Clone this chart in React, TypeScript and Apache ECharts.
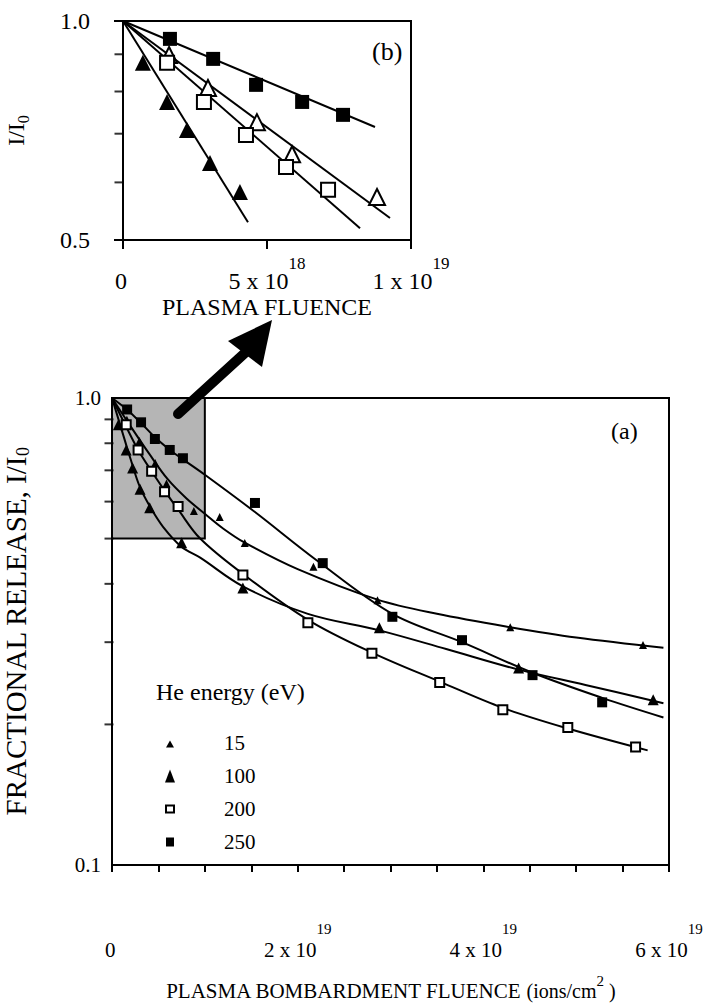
import React, { useEffect, useRef } from "react";
import * as echarts from "echarts";

// ---------- data (fluence in ions/cm^2, release = I/I0) ----------
const fluence15 = [1.6e18, 2.95e18, 4.65e18, 5.87e18, 8.82e18, 1.16e19, 1.43e19, 2.17e19, 2.86e19, 4.29e19, 5.72e19];
const release15 = [0.898, 0.809, 0.726, 0.656, 0.573, 0.556, 0.489, 0.435, 0.369, 0.323, 0.296];

const fluence100 = [0.69e18, 1.53e18, 2.22e18, 3.02e18, 4.06e18, 7.5e18, 1.41e19, 2.88e19, 4.38e19, 5.83e19];
const release100 = [0.876, 0.774, 0.708, 0.638, 0.582, 0.49, 0.392, 0.322, 0.264, 0.226];

const fluence200 = [1.53e18, 2.81e18, 4.27e18, 5.66e18, 7.12e18, 1.41e19, 2.11e19, 2.8e19, 3.53e19, 4.21e19, 4.91e19, 5.64e19];
const release200 = [0.876, 0.774, 0.697, 0.63, 0.586, 0.418, 0.33, 0.284, 0.246, 0.215, 0.197, 0.179];

const fluence250 = [1.63e18, 3.13e18, 4.62e18, 6.22e18, 7.64e18, 1.54e19, 2.27e19, 3.02e19, 3.77e19, 4.53e19, 5.28e19];
const release250 = [0.945, 0.887, 0.817, 0.774, 0.743, 0.596, 0.443, 0.34, 0.303, 0.255, 0.223];

// fitted curves of panel (a)
const fitFluence15 = [0, 0.2e19, 0.4e19, 0.6e19, 0.8e19, 1.0e19, 1.2e19, 1.43e19, 2.0e19, 2.86e19, 3.5e19, 4.29e19, 5.0e19, 5.94e19];
const fitRelease15 = [1, 0.87, 0.76, 0.67, 0.61, 0.565, 0.525, 0.49, 0.43, 0.37, 0.345, 0.323, 0.307, 0.292];

const fitFluence100 = [0, 0.1e19, 0.2e19, 0.3e19, 0.41e19, 0.55e19, 0.75e19, 0.95e19, 1.41e19, 2.11e19, 2.88e19, 3.6e19, 4.38e19, 5.1e19, 5.94e19];
const fitRelease100 = [1, 0.86, 0.74, 0.645, 0.585, 0.53, 0.48, 0.455, 0.395, 0.345, 0.318, 0.29, 0.262, 0.243, 0.222];

const fitFluence200 = [0, 0.15e19, 0.28e19, 0.43e19, 0.57e19, 0.71e19, 0.95e19, 1.41e19, 2.11e19, 2.8e19, 3.53e19, 4.21e19, 4.91e19, 5.77e19];
const fitRelease200 = [1, 0.87, 0.775, 0.695, 0.632, 0.578, 0.5, 0.42, 0.335, 0.285, 0.247, 0.217, 0.196, 0.176];

const fitFluence250 = [0, 0.16e19, 0.31e19, 0.46e19, 0.62e19, 0.76e19, 1.0e19, 1.54e19, 2.2e19, 3.02e19, 3.77e19, 4.53e19, 5.28e19, 5.94e19];
const fitRelease250 = [1, 0.945, 0.885, 0.825, 0.775, 0.74, 0.685, 0.57, 0.45, 0.345, 0.3, 0.258, 0.228, 0.207];

// straight fits of panel (b)
const insetFitFluence15 = [0, 9.27e18];
const insetFitRelease15 = [1, 0.536];
const insetFitFluence100 = [0, 4.34e18];
const insetFitRelease100 = [1, 0.529];
const insetFitFluence200 = [0, 8.23e18];
const insetFitRelease200 = [1, 0.519];
const insetFitFluence250 = [0, 8.75e18];
const insetFitRelease250 = [1, 0.715];

// axes
const mainFluenceMax = 6e19;
const fluenceTickStep = 5e18;
const mainReleaseMin = 0.1;
const mainReleaseMax = 1.0;
const mainMinorTicks = [0.2, 0.3, 0.4, 0.5, 0.6, 0.7, 0.8, 0.9];
const insetFluenceMax = 1e19;
const insetReleaseMin = 0.5;
const insetReleaseMax = 1.0;
const insetMinorTicks = [0.6, 0.7, 0.8, 0.9];

const SERIF = '"Liberation Serif", "Times New Roman", Times, serif';

const zip = (xs: number[], ys: number[]) => xs.map((x, i) => [x, ys[i]]);
const inInset = (p: number[]) => p[0] <= insetFluenceMax && p[1] >= insetReleaseMin;

export default function App() {
  const ref = useRef<HTMLDivElement>(null);

  useEffect(() => {
    document.body.style.margin = "0";
    const chart = echarts.init(ref.current!, null, { renderer: "svg" });

    const fitLine = (name: string, xs: number[], ys: number[], idx: number, smooth: number | boolean, extra: any = {}) => ({
      name,
      type: "line",
      xAxisIndex: idx,
      yAxisIndex: idx,
      data: zip(xs, ys),
      smooth,
      showSymbol: false,
      silent: true,
      clip: false,
      lineStyle: { color: "#000", width: 2 },
      z: 3,
      ...extra,
    });

    const scatter = (name: string, pts: number[][], idx: number, symbol: string, size: number, open: boolean) => ({
      name,
      type: "scatter",
      xAxisIndex: idx,
      yAxisIndex: idx,
      data: pts,
      symbol,
      symbolSize: size,
      clip: false,
      silent: true,
      itemStyle: open
        ? { color: "#fff", borderColor: "#000", borderWidth: 2, opacity: 1 }
        : { color: "#000", borderColor: "#000", borderWidth: 0, opacity: 1 },
      z: 5,
    });

    const pts15 = zip(fluence15, release15);
    const pts100 = zip(fluence100, release100);
    const pts200 = zip(fluence200, release200);
    const pts250 = zip(fluence250, release250);

    const mainXLabel = (v: number) => {
      const k = Math.round(v / 1e18);
      if (k % 20 !== 0) return "";
      if (k === 0) return "{b|0}{s| }";
      return `{b|${k / 10} x 10}{s|19}`;
    };
    const insetXLabel = (v: number) => {
      const k = Math.round(v / 1e18);
      if (k === 0) return "{b|0}{s| }";
      if (k === 5) return "{b|5 x 10}{s|18}";
      if (k === 10) return "{b|1 x 10}{s|19}";
      return "";
    };

    const option: any = {
      animation: false,
      backgroundColor: "#fff",
      textStyle: { fontFamily: SERIF, color: "#000" },
      grid: [
        { left: 112, top: 398, width: 557, height: 467, show: true, borderColor: "#000", borderWidth: 2, backgroundColor: "transparent", containLabel: false, outerBoundsMode: "none" },
        { left: 123, top: 21, width: 288, height: 219, show: true, borderColor: "#000", borderWidth: 2, backgroundColor: "transparent", containLabel: false, outerBoundsMode: "none" },
      ],
      xAxis: [
        {
          gridIndex: 0,
          type: "value",
          min: 0,
          max: mainFluenceMax,
          interval: fluenceTickStep,
          splitLine: { show: false },
          axisLine: { lineStyle: { color: "#000", width: 2 } },
          axisTick: { inside: false, length: 7, lineStyle: { color: "#000", width: 2 } },
          axisLabel: {
            margin: 56,
            formatter: mainXLabel,
            rich: {
              b: { fontFamily: SERIF, fontSize: 21, color: "#000" },
              s: { fontFamily: SERIF, fontSize: 15, color: "#000", padding: [0, 0, 42, 0] },
            },
          },
          name: "{a|PLASMA BOMBARDMENT FLUENCE }{c|(ions/cm}{s|2}{c| )}",
          nameLocation: "middle",
          nameGap: 108,
          nameTextStyle: {
            rich: {
              a: { fontFamily: SERIF, fontSize: 21, color: "#000" },
              c: { fontFamily: SERIF, fontSize: 20, color: "#000" },
              s: { fontFamily: SERIF, fontSize: 15, color: "#000", padding: [0, 0, 20, 0] },
            },
          },
        },
        {
          gridIndex: 1,
          type: "value",
          min: 0,
          max: insetFluenceMax,
          interval: fluenceTickStep,
          splitLine: { show: false },
          axisLine: { lineStyle: { color: "#000", width: 2 } },
          axisTick: { inside: false, length: 9, lineStyle: { color: "#000", width: 2 } },
          axisLabel: {
            margin: 15,
            formatter: insetXLabel,
            showMaxLabel: true,
            showMinLabel: true,
            rich: {
              b: { fontFamily: SERIF, fontSize: 24, color: "#000" },
              s: { fontFamily: SERIF, fontSize: 17, color: "#000", padding: [0, 0, 35, 0] },
            },
          },
          name: "PLASMA FLUENCE",
          nameLocation: "middle",
          nameGap: 55,
          nameTextStyle: { fontFamily: SERIF, fontSize: 24, color: "#000" },
        },
      ],
      yAxis: [
        {
          gridIndex: 0,
          type: "log",
          logBase: 10,
          min: mainReleaseMin,
          max: mainReleaseMax,
          splitLine: { show: false },
          axisLine: { show: true, lineStyle: { color: "#000", width: 2 } },
          axisTick: { show: false },
          axisLabel: { margin: 11, fontSize: 21, fontFamily: SERIF, color: "#000", formatter: (v: number) => v.toFixed(1) },
          name: "{a|FRACTIONAL RELEASE, I/I}{s|0}",
          nameLocation: "middle",
          nameRotate: 90,
          nameGap: 80,
          nameTextStyle: {
            rich: {
              a: { fontFamily: SERIF, fontSize: 29, color: "#000" },
              s: { fontFamily: SERIF, fontSize: 18, color: "#000", padding: [15, 0, 0, 0] },
            },
          },
        },
        {
          gridIndex: 1,
          type: "log",
          logBase: 10,
          min: insetReleaseMin,
          max: insetReleaseMax,
          splitLine: { show: false },
          axisLine: { show: true, lineStyle: { color: "#000", width: 2 } },
          axisTick: { show: true, length: 9, lineStyle: { color: "#000", width: 2 } },
          axisLabel: { margin: 33, fontSize: 24, fontFamily: SERIF, color: "#000", formatter: (v: number) => v.toFixed(1) },
          name: "{a|I/I}{s|0}",
          nameLocation: "middle",
          nameRotate: 90,
          nameGap: 92,
          nameTextStyle: {
            rich: {
              a: { fontFamily: SERIF, fontSize: 24, color: "#000" },
              s: { fontFamily: SERIF, fontSize: 16, color: "#000", padding: [14, 0, 0, 0] },
            },
          },
        },
      ],
      title: {
        text: "He energy (eV)",
        left: 151,
        top: 675,
        textStyle: { fontFamily: SERIF, fontSize: 24, fontWeight: "normal", color: "#000" },
      },
      legend: {
        left: 157,
        top: 727,
        orient: "vertical",
        selectedMode: false,
        itemWidth: 14,
        itemHeight: 14,
        itemGap: 12,
        formatter: (n: string) => `{t|${n}}`,
        textStyle: {
          rich: { t: { fontFamily: SERIF, fontSize: 21, color: "#000", padding: [0, 0, 0, 42], lineHeight: 18 } },
        },
        data: [
          { name: "15", icon: "path://M0,0M3,12L7,5L11,12ZM14,14", itemStyle: { color: "#000", borderWidth: 0 } },
          { name: "100", icon: "path://M0,0M2,14L7,1L12,14ZM14,14", itemStyle: { color: "#000", borderWidth: 0 } },
          { name: "200", icon: "path://M0,0M3,4L11,4L11,11L3,11ZM14,14", itemStyle: { color: "#fff", borderColor: "#000", borderWidth: 2 } },
          { name: "250", icon: "path://M0,0M3,3L11,3L11,12L3,12ZM14,14", itemStyle: { color: "#000", borderWidth: 0 } },
        ],
      },
      series: [
        fitLine("fit15", fitFluence15, fitRelease15, 0, 0.35),
        fitLine("fit100", fitFluence100, fitRelease100, 0, 0.35),
        fitLine("fit200", fitFluence200, fitRelease200, 0, 0.35),
        fitLine("fit250", fitFluence250, fitRelease250, 0, 0.35, {
          markArea: {
            silent: true,
            itemStyle: { color: "rgba(100,100,100,0.48)", borderColor: "#000", borderWidth: 2 },
            data: [[{ xAxis: 0, yAxis: insetReleaseMax }, { xAxis: insetFluenceMax, yAxis: insetReleaseMin }]],
          },
        }),
        scatter("15", pts15, 0, "triangle", 8, false),
        scatter("100", pts100, 0, "triangle", 11, false),
        scatter("200", pts200, 0, "rect", 9, true),
        scatter("250", pts250, 0, "rect", 10, false),
        {
          name: "ticksMain",
          type: "scatter",
          xAxisIndex: 0,
          yAxisIndex: 0,
          data: mainMinorTicks.map((v) => [0, v]),
          symbol: "rect",
          symbolSize: [9, 2],
          symbolOffset: [-3, 0],
          clip: false,
          silent: true,
          itemStyle: { color: "#000" },
        },
        fitLine("ifit15", insetFitFluence15, insetFitRelease15, 1, false),
        fitLine("ifit100", insetFitFluence100, insetFitRelease100, 1, false),
        fitLine("ifit200", insetFitFluence200, insetFitRelease200, 1, false),
        fitLine("ifit250", insetFitFluence250, insetFitRelease250, 1, false),
        scatter("i15", pts15.filter(inInset), 1, "triangle", 16, true),
        scatter("i100", pts100.filter(inInset), 1, "triangle", 16, false),
        scatter("i200", pts200.filter(inInset), 1, "rect", 14, true),
        scatter("i250", pts250.filter(inInset), 1, "rect", 14, false),
        {
          name: "ticksInset",
          type: "scatter",
          xAxisIndex: 1,
          yAxisIndex: 1,
          data: insetMinorTicks.map((v) => [0, v]),
          symbol: "rect",
          symbolSize: [9, 2],
          symbolOffset: [-4, 0],
          clip: false,
          silent: true,
          itemStyle: { color: "#000" },
        },
      ],
      graphic: [
        { type: "text", left: 611, top: 419, style: { text: "(a)", font: `24px ${SERIF}`, fill: "#000" } },
        { type: "text", left: 372, top: 38, style: { text: "(b)", font: `26px ${SERIF}`, fill: "#000" } },
        { type: "line", shape: { x1: 178, y1: 414, x2: 246, y2: 352 }, style: { stroke: "#000", lineWidth: 10, lineCap: "round" }, z: 100 },
        { type: "polygon", shape: { points: [[272, 320], [228, 341], [262, 367]] }, style: { fill: "#000" }, z: 100 },
      ],
    };

    chart.setOption(option);
    return () => chart.dispose();
  }, []);

  return <div ref={ref} style={{ width: 722, height: 1005, background: "#fff" }} />;
}
